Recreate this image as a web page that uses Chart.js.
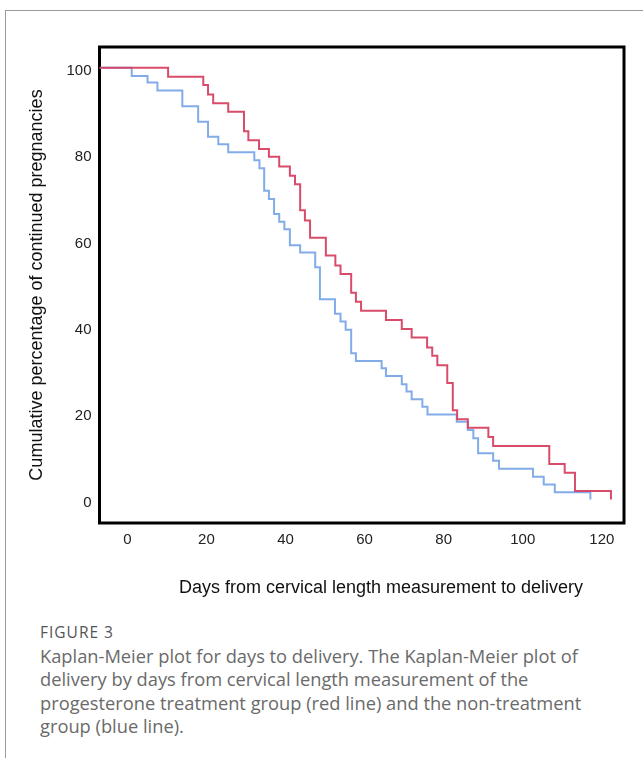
<!DOCTYPE html>
<html>
<head>
<meta charset="utf-8">
<script src="https://cdn.jsdelivr.net/npm/chart.js@4.4.1/dist/chart.umd.min.js"></script>
<style>
    html, body { margin: 0; padding: 0; background: #fff; }
    body { width: 643px; height: 758px; position: relative; overflow: hidden; }
    #card {
        position: absolute; left: 5px; top: 10px; width: 660px; height: 760px;
        border-top: 1px solid #9a9a9a; border-left: 1px solid #9a9a9a;
    }
    #chartBox { position: absolute; left: 0; top: 0; width: 643px; height: 610px; }
    #xTitle {
        position: absolute; left: 131px; top: 577px; width: 500px; text-align: center;
        font: 18px "Liberation Sans", Arial, Helvetica, sans-serif; color: #111; white-space: nowrap;
    }
    #figLabel {
        position: absolute; left: 40px; top: 621px;
        font: 15.5px "Open Sans", Lato, sans-serif; color: #555; letter-spacing: 1px;
    }
    #caption {
        position: absolute; left: 40px; top: 644px; width: 610px;
        font: 18.3px "Open Sans", Lato, sans-serif; line-height: 23.4px; color: #6a6a6a; white-space: nowrap;
    }
</style>
</head>
<body>
<div id="card"></div>
<div id="chartBox"><canvas id="kmChart" width="643" height="610"></canvas></div>
<div id="xTitle">Days from cervical length measurement to delivery</div>
<div id="figLabel">FIGURE 3</div>
<div id="caption">Kaplan-Meier plot for days to delivery. The Kaplan-Meier plot of<br>delivery by days from cervical length measurement of the<br>progesterone treatment group (red line) and the non-treatment<br>group (blue line).</div>
<script>
// axis range (days / percent) as seen in the figure
const xMin = -7.05, xMax = 125.6;
const yMin = -5.44, yMax = 104.8;
const xTickValues = [0, 20, 40, 60, 80, 100, 120];
const yTickValues = [0, 20, 40, 60, 80, 100];

// progesterone treatment group (red line)
const redDays = [xMin, 10.3, 19.2, 20.4, 21.7, 25.5, 29.5, 30.6, 33.3, 35.8, 38.4, 41.1, 42.4, 43.7, 44.9, 46.2,
    50.2, 52.6, 53.9, 56.6, 57.8, 59.1, 65.4, 69.4, 71.9, 75.8, 77.1, 78.4, 80.9, 82.3, 83.4, 86.1,
    91.3, 92.5, 106.7, 110.6, 113.2, 122.3];
const redPct = [100, 97.9, 96.0, 93.8, 91.8, 89.8, 85.3, 83.2, 81.2, 79.4, 77.1, 75.0, 73.0, 67.0, 64.6, 60.6,
    56.5, 54.2, 52.2, 47.9, 45.8, 43.7, 41.6, 39.5, 37.5, 35.2, 33.3, 31.1, 27.0, 20.7, 18.6, 16.6,
    14.5, 12.4, 8.2, 6.2, 2.0, 0];

// non-treatment group (blue line)
const blueDays = [xMin, 1.1, 5.1, 7.6, 13.9, 17.9, 20.4, 23.0, 25.5, 32.1, 33.4, 34.6, 35.8, 37.1, 38.4, 39.7,
    41.1, 43.7, 47.5, 48.7, 52.5, 53.9, 55.2, 56.6, 57.8, 64.3, 65.4, 69.4, 70.6, 71.9, 74.6, 75.9,
    83.3, 86.1, 87.5, 88.7, 92.5, 94.0, 102.6, 105.3, 108.1, 117.1];
const bluePct = [100, 98.1, 96.6, 94.7, 91.1, 87.5, 84.0, 82.3, 80.4, 78.6, 76.7, 71.5, 69.6, 66.1, 64.3, 62.6,
    58.9, 57.2, 53.8, 46.4, 43.0, 41.2, 39.3, 33.9, 32.1, 30.4, 28.6, 26.7, 25.0, 23.2, 21.5, 19.7,
    18.0, 16.1, 14.2, 10.7, 9.0, 7.1, 5.3, 3.5, 1.7, 0];

const tickFont = { family: '"Liberation Sans", Arial, Helvetica, sans-serif', size: 15 };

// thick black frame round the plot area
const frameBox = {
    id: 'frameBox',
    beforeDatasetsDraw(chart) {
        const { ctx, chartArea: a } = chart;
        ctx.save();
        ctx.strokeStyle = '#000';
        ctx.lineWidth = 3;
        ctx.strokeRect(a.left, a.top, a.right - a.left, a.bottom - a.top);
        ctx.restore();
    }
};

function toPoints(days, pct) {
    return days.map((d, i) => ({ x: d, y: pct[i] }));
}

const ctx = document.getElementById('kmChart').getContext('2d');
const kmChart = new Chart(ctx, {
    type: 'line',
    data: {
        datasets: [{
            label: 'Progesterone treatment',
            data: toPoints(redDays, redPct),
            borderColor: 'rgba(214, 66, 98, 0.95)',
            borderWidth: 2,
            stepped: 'before',
            pointRadius: 0,
            fill: false
        }, {
            label: 'Non-treatment',
            data: toPoints(blueDays, bluePct),
            borderColor: 'rgba(122, 168, 232, 0.95)',
            borderWidth: 2,
            stepped: 'before',
            pointRadius: 0,
            fill: false
        }]
    },
    options: {
        responsive: false,
        animation: false,
        layout: { padding: { top: 47, right: 19, left: 0, bottom: 0 } },
        plugins: { legend: { display: false }, tooltip: { enabled: false } },
        scales: {
            x: {
                type: 'linear',
                min: xMin,
                max: xMax,
                grid: { display: false, drawTicks: false },
                border: { display: false },
                ticks: { font: tickFont, color: '#222', padding: 8, maxRotation: 0 },
                afterBuildTicks: (scale) => { scale.ticks = xTickValues.map(v => ({ value: v })); },
                afterFit: (scale) => { scale.height = 87; }
            },
            y: {
                type: 'linear',
                min: yMin,
                max: yMax,
                grid: { display: false, drawTicks: false },
                border: { display: false },
                ticks: { font: tickFont, color: '#222', padding: 8, labelOffset: 3 },
                afterBuildTicks: (scale) => { scale.ticks = yTickValues.map(v => ({ value: v })); },
                afterFit: (scale) => { scale.width = 99.5; },
                title: {
                    display: true,
                    text: 'Cumulative percentage of continued pregnancies',
                    font: { family: '"Liberation Sans", Arial, Helvetica, sans-serif', size: 18 },
                    color: '#111',
                    padding: { top: 26, bottom: 0 }
                }
            }
        }
    },
    plugins: [frameBox]
});
</script>
</body>
</html>
